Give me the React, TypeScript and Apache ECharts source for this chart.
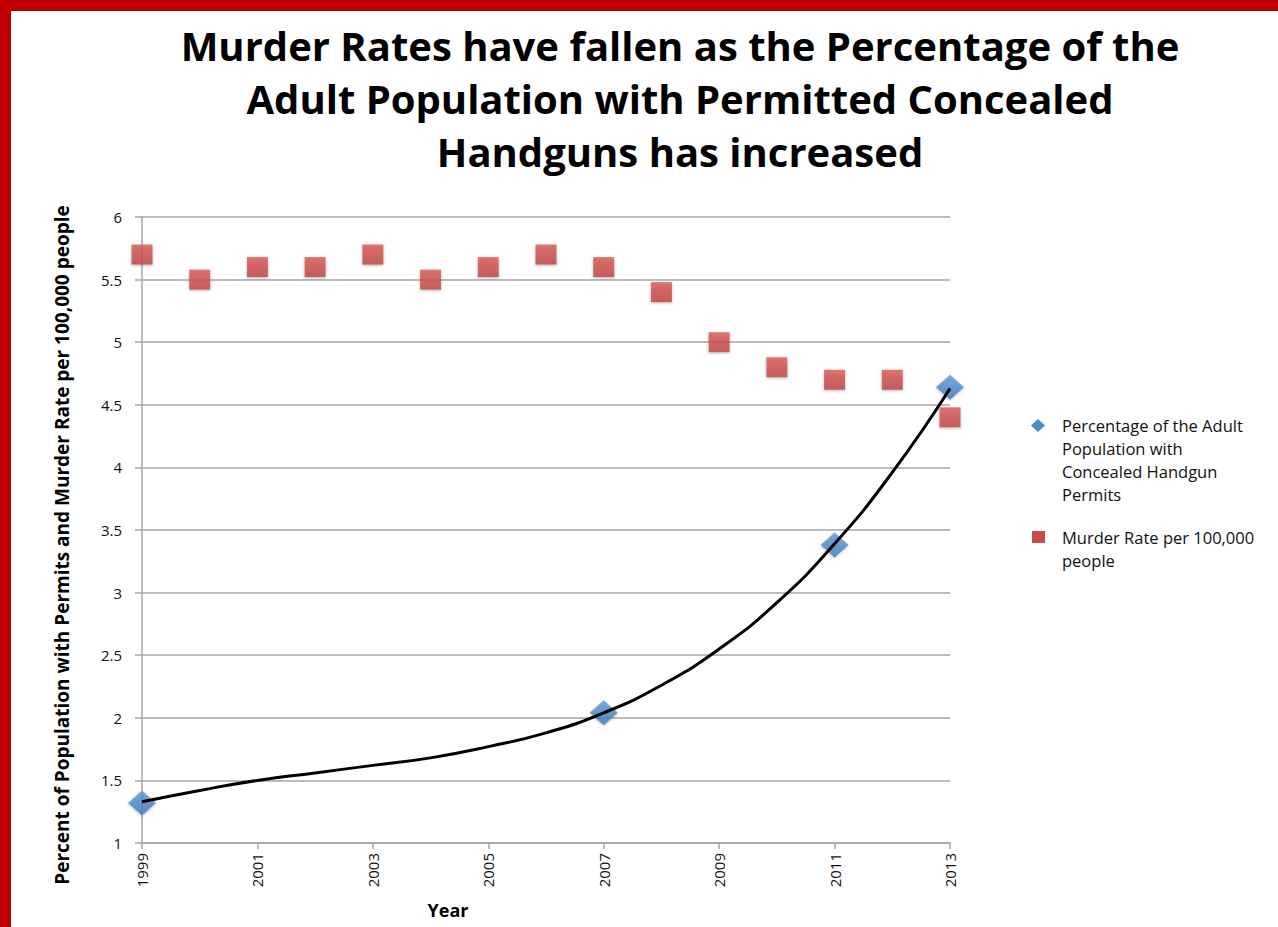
import React, { useEffect, useRef } from "react";
import * as echarts from "echarts";

const years = ["1999", "2000", "2001", "2002", "2003", "2004", "2005", "2006", "2007", "2008", "2009", "2010", "2011", "2012", "2013"];
const murderRate = [5.7, 5.5, 5.6, 5.6, 5.7, 5.5, 5.6, 5.7, 5.6, 5.4, 5.0, 4.8, 4.7, 4.7, 4.4];
const permitYears = ["1999", "2007", "2011", "2013"];
const permitPct = [1.32, 2.04, 3.38, 4.64];
const trendValues = [1.33, 1.42, 1.5, 1.56, 1.62, 1.68, 1.77, 1.88, 2.04, 2.26, 2.55, 2.92, 3.39, 3.96, 4.63];

const titleText = "Murder Rates have fallen as the Percentage of the\nAdult Population with Permitted Concealed\nHandguns has increased";
const permitName = "Percentage of the Adult\nPopulation with\nConcealed Handgun\nPermits";
const murderName = "Murder Rate per 100,000\npeople";
const yAxisName = "Percent of Population with Permits and Murder Rate per 100,000 people";
const xAxisName = "Year";

const BLUE = new echarts.graphic.LinearGradient(0, 0, 0, 1, [
  { offset: 0, color: "#5C9CDA" },
  { offset: 1, color: "#3C78B8" },
]);
const RED = new echarts.graphic.LinearGradient(0, 0, 0, 1, [
  { offset: 0, color: "#DB5A55" },
  { offset: 1, color: "#BD433F" },
]);

export default function App() {
  const ref = useRef<HTMLDivElement>(null);
  useEffect(() => {
    document.body.style.margin = "0";
    const chart = echarts.init(ref.current!, undefined, { renderer: "svg" });
    const font = "'Open Sans', Lato, sans-serif";
    chart.setOption({
      animation: false,
      backgroundColor: "#ffffff",
      title: {
        text: titleText,
        left: 675,
        top: 14,
        textAlign: "center",
        textStyle: {
          fontFamily: font,
          fontWeight: "bold",
          fontSize: 40,
          lineHeight: 53,
          color: "#000000",
        },
      },
      grid: { left: 142, right: 328, top: 217, bottom: 84 },
      xAxis: {
        type: "category",
        data: years,
        boundaryGap: false,
        axisLine: { show: true, lineStyle: { color: "#A6A6A6", width: 1.5 } },
        axisTick: { show: true, interval: 1, length: 6, lineStyle: { color: "#A6A6A6", width: 1.5 } },
        axisLabel: {
          interval: 1,
          rotate: 90,
          margin: 10,
          fontFamily: font,
          fontSize: 15,
          color: "#111111",
        },
        splitLine: { show: false },
      },
      yAxis: {
        type: "value",
        min: 1,
        max: 6,
        interval: 0.5,
        axisLine: { show: true, lineStyle: { color: "#A6A6A6", width: 1.5 } },
        axisTick: { show: true, length: 7, lineStyle: { color: "#A6A6A6", width: 1.5 } },
        axisLabel: {
          margin: 20,
          fontFamily: font,
          fontSize: 15,
          color: "#111111",
        },
        splitLine: { show: true, lineStyle: { color: "#A6A6A6", width: 1.5 } },
      },
      series: [
        {
          name: murderName,
          type: "scatter",
          symbol: "rect",
          symbolSize: [21, 20],
          data: years.map((y, i) => [y, murderRate[i]]),
          itemStyle: {
            color: RED,
            shadowBlur: 3,
            shadowColor: "rgba(0,0,0,0.35)",
            shadowOffsetY: 1,
          },
          z: 2,
        },
        {
          name: permitName,
          type: "scatter",
          symbol: "diamond",
          symbolSize: [28, 25],
          data: permitYears.map((y, i) => [y, permitPct[i]]),
          itemStyle: {
            color: BLUE,
            shadowBlur: 3,
            shadowColor: "rgba(0,0,0,0.3)",
            shadowOffsetY: 1,
          },
          z: 3,
        },
        {
          name: "trend",
          type: "line",
          data: trendValues,
          smooth: 0.5,
          symbol: "none",
          lineStyle: { color: "#000000", width: 3 },
          z: 4,
        },
      ],
      graphic: [
        { type: "rect", shape: { x: 0, y: 0, width: 11, height: 927 }, style: { fill: "#C00000" }, z: 100 },
        { type: "rect", shape: { x: 0, y: 0, width: 1278, height: 11 }, style: { fill: "#C00000" }, z: 100 },
        {
          type: "text",
          x: 62,
          y: 545,
          rotation: Math.PI / 2,
          style: {
            text: yAxisName,
            fontFamily: font,
            fontWeight: "bold",
            fontSize: 19,
            fill: "#000000",
            align: "center",
            verticalAlign: "middle",
          },
        },
        {
          type: "text",
          x: 448,
          y: 910,
          style: {
            text: xAxisName,
            fontFamily: font,
            fontWeight: "bold",
            fontSize: 18,
            fill: "#000000",
            align: "center",
            verticalAlign: "middle",
          },
        },
        {
          type: "polygon",
          shape: { points: [[1038, 419], [1045, 425.5], [1038, 432], [1031, 425.5]] },
          style: { fill: "#4A8AC9" },
        },
        {
          type: "text",
          x: 1062,
          y: 414,
          style: {
            text: permitName,
            fontFamily: font,
            fontSize: 16.5,
            lineHeight: 23,
            fill: "#111111",
            align: "left",
            verticalAlign: "top",
          },
        },
        {
          type: "rect",
          shape: { x: 1032, y: 531, width: 13, height: 12 },
          style: { fill: "#C94B47" },
        },
        {
          type: "text",
          x: 1062,
          y: 526,
          style: {
            text: murderName,
            fontFamily: font,
            fontSize: 16.5,
            lineHeight: 23,
            fill: "#111111",
            align: "left",
            verticalAlign: "top",
          },
        },
      ],
    });
    return () => chart.dispose();
  }, []);
  return <div ref={ref} style={{ width: 1278, height: 927 }} />;
}
